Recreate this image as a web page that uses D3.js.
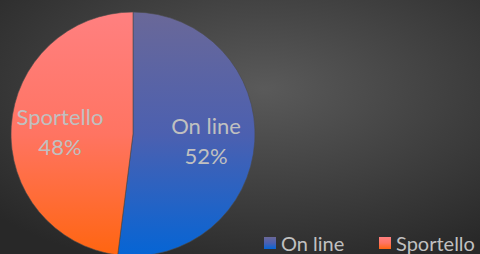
<!DOCTYPE html>
<html>
<head>
  <meta charset="utf-8" />
  <script src="https://cdn.jsdelivr.net/npm/d3@7"></script>
  <style>
    body { margin: 0; }
    svg { display: block; font-family: Lato, "Open Sans", sans-serif; }
  </style>
</head>
<body>
  <div id="chart"></div>
  <script type="text/javascript">
    var categories = ["On line", "Sportello"];
    var values = [52, 48];
    // gradient stops (top, middle, bottom) per slice
    var sliceColors = [
      ["#6a6898", "#4c60b0", "#0565d5"],
      ["#ff8080", "#ff7462", "#ff6510"]
    ];

    var width = 480, height = 254;
    var cx = 133, cy = 134, radius = 122;

    var svg = d3.select("#chart").append("svg")
      .attr("width", width)
      .attr("height", height);

    var defs = svg.append("defs");

    var bg = defs.append("radialGradient")
      .attr("id", "bg")
      .attr("cx", "55%").attr("cy", "35%").attr("r", "75%");
    bg.append("stop").attr("offset", "0%").attr("stop-color", "#5a5a5a");
    bg.append("stop").attr("offset", "100%").attr("stop-color", "#282828");

    svg.append("rect")
      .attr("width", width)
      .attr("height", height)
      .attr("fill", "url(#bg)");

    var offsets = ["0%", "50%", "100%"];
    sliceColors.forEach(function (cols, i) {
      var g = defs.append("linearGradient")
        .attr("id", "grad" + i)
        .attr("gradientUnits", "userSpaceOnUse")
        .attr("x1", 0).attr("y1", -radius)
        .attr("x2", 0).attr("y2", radius);
      var lg = defs.append("linearGradient")
        .attr("id", "lgrad" + i)
        .attr("x1", 0).attr("y1", 0).attr("x2", 0).attr("y2", 1);
      cols.forEach(function (c, k) {
        g.append("stop").attr("offset", offsets[k]).attr("stop-color", c);
        lg.append("stop").attr("offset", offsets[k]).attr("stop-color", c);
      });
    });

    var pie = d3.pie().sort(null);
    var arcs = pie(values);
    var arc = d3.arc().innerRadius(0).outerRadius(radius);
    var labelArc = d3.arc().innerRadius(radius * 0.6).outerRadius(radius * 0.6);

    var g = svg.append("g").attr("transform", "translate(" + cx + "," + cy + ")");

    g.selectAll("path")
      .data(arcs)
      .enter().append("path")
      .attr("d", arc)
      .attr("fill", function (d, i) { return "url(#grad" + i + ")"; })
      .attr("stroke", "#4a4a4a")
      .attr("stroke-width", 0.6);

    var labels = g.selectAll("text.lbl")
      .data(arcs)
      .enter().append("text")
      .attr("class", "lbl")
      .attr("transform", function (d) {
        var p = labelArc.centroid(d);
        return "translate(" + p[0] + "," + p[1] + ")";
      })
      .attr("text-anchor", "middle")
      .attr("fill", "#c0c0c0")
      .style("font-size", "22px");

    labels.append("tspan")
      .attr("x", 0).attr("dy", "-0.2em")
      .text(function (d, i) { return categories[i]; });
    labels.append("tspan")
      .attr("x", 0).attr("dy", "1.35em")
      .text(function (d) { return d.data + "%"; });

    // legend
    var legendX = [264, 379];
    var legend = svg.selectAll("g.legend")
      .data(categories)
      .enter().append("g")
      .attr("class", "legend")
      .attr("transform", function (d, i) { return "translate(" + legendX[i] + ",237)"; });

    legend.append("rect")
      .attr("width", 12).attr("height", 12)
      .attr("fill", function (d, i) { return "url(#lgrad" + i + ")"; });

    legend.append("text")
      .attr("x", 17).attr("y", 14)
      .attr("fill", "#c0c0c0")
      .style("font-size", "20px")
      .text(function (d) { return d; });
  </script>
</body>
</html>
